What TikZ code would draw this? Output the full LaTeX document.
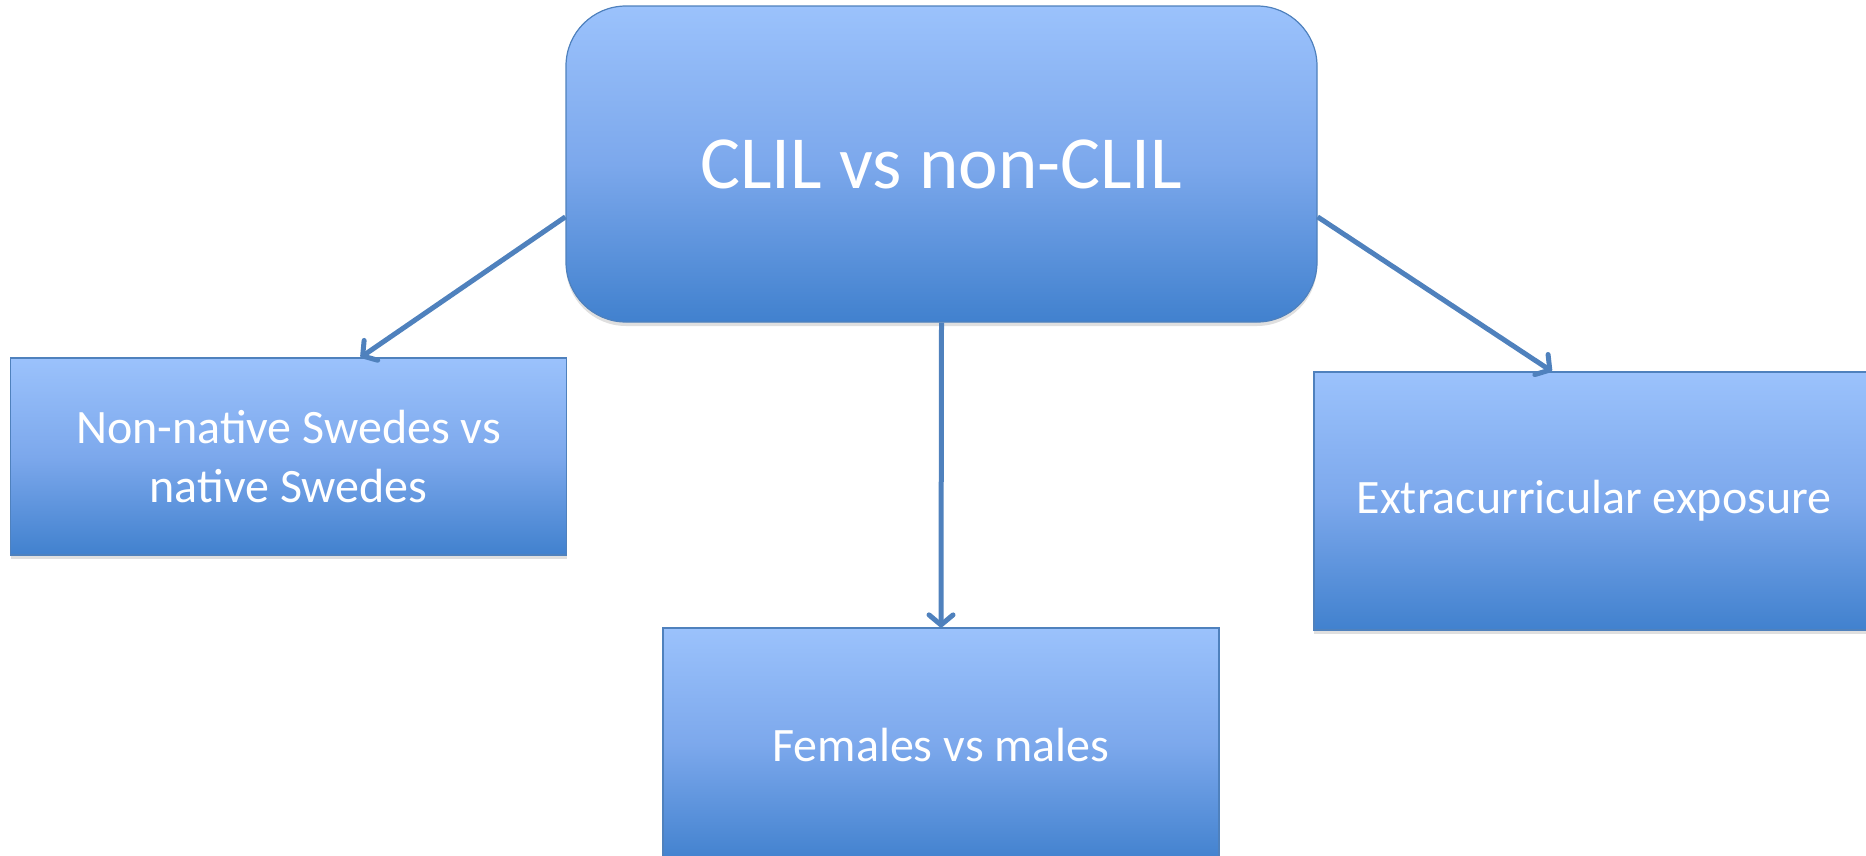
\documentclass[tikz,border=0pt]{standalone}
\usepackage{fontspec}
\setmainfont{Carlito}
\usetikzlibrary{arrows.meta,shadows}
\definecolor{boxTop}{RGB}{155,194,252}
\definecolor{boxMid}{RGB}{124,168,236}
\definecolor{boxBottom}{RGB}{65,129,206}
\definecolor{boxLine}{RGB}{79,129,189}

\begin{document}
\begin{tikzpicture}[
							x=1pt, y=-1pt,
							box/.style={rectangle, draw=boxLine, line width=1.2pt, top color=boxTop, bottom color=boxBottom, middle color=boxMid, text=white, align=center, inner sep=0pt, drop shadow={shadow xshift=0pt, shadow yshift=-4pt, opacity=0.25}},
							link/.style={draw=boxLine, line width=5pt, -{Straight Barb[length=10pt, width=24pt, round]}}
						]
						\path[use as bounding box, clip] (0,0) rectangle (1866,855);

						\node[box, rounded corners=60pt, minimum width=751pt, minimum height=316pt, font=\fontsize{75}{90}\selectfont] (nodeTop) at (941.5,164) {CLIL vs non-CLIL};

						\node[box, minimum width=556pt, minimum height=197pt, font=\fontsize{48}{59}\selectfont] (nodeLeft) at (288.6,456.5) {Non-native Swedes vs\\native Swedes};
						\node[box, minimum width=556pt, minimum height=234pt, font=\fontsize{48}{59}\selectfont] (nodeMid) at (941,745) {Females vs males};
						\node[box, minimum width=560pt, minimum height=258pt, font=\fontsize{48}{59}\selectfont] (nodeRight) at (1594,501) {Extracurricular exposure};

						\draw[link] (nodeTop.188) to (nodeLeft.54);
						\draw[link] (nodeTop.south) to (nodeMid.north);
						\draw[link] (nodeTop.352) to (nodeRight.108);
					\end{tikzpicture}
\end{document}
